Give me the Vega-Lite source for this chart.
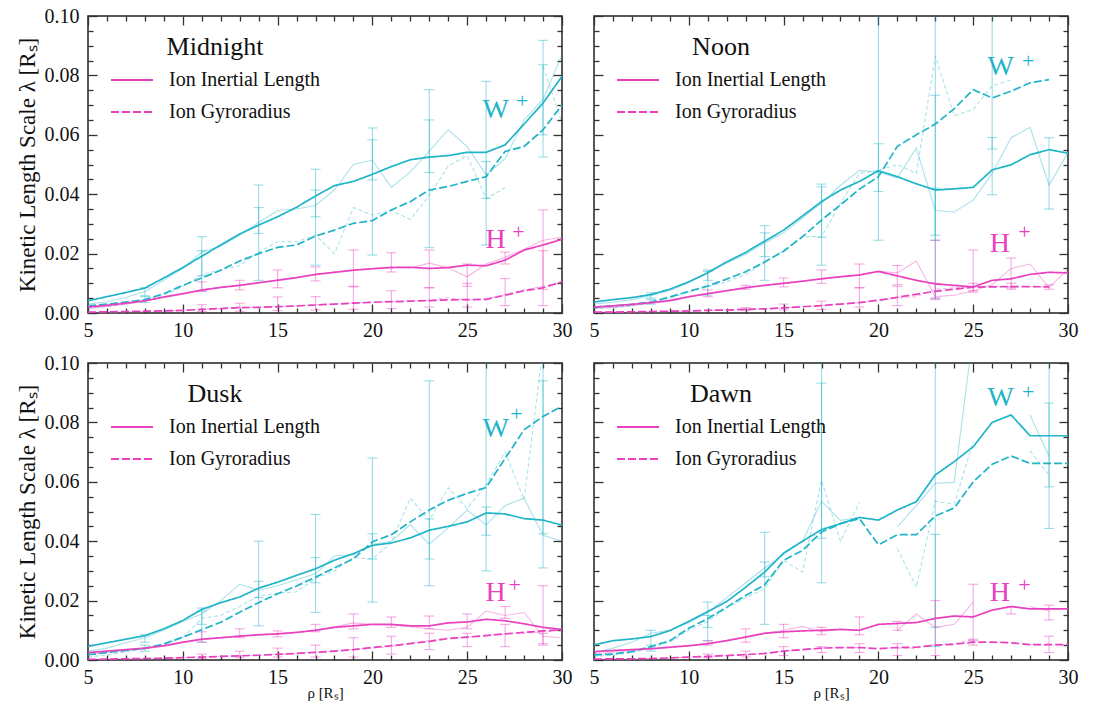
{
"$schema": "https://vega.github.io/schema/vega-lite/v6.json",
"background": "white",
"padding": {"left": 15, "top": 5, "right": 8, "bottom": 3},
"config": {
  "font": "Liberation Serif, serif",
  "view": {"stroke": "#222222", "strokeWidth": 1.5},
  "axis": {"labelFont": "Liberation Serif, serif", "titleFont": "Liberation Serif, serif", "labelColor": "#111111", "titleColor": "#111111", "tickColor": "#333333", "tickWidth": 1.3, "domain": false, "grid": false, "titleFontWeight": "normal"},
  "legend": {"labelFont": "Liberation Serif, serif", "titleFont": "Liberation Serif, serif"},
  "text": {"font": "Liberation Serif, serif"}
},
"datasets": {
"lines": [
{"panel":"Midnight","ion":"W+","x":5,"Ion Inertial Length":0.0041,"Ion Gyroradius":0.0024,"raw_inertial":0.003,"raw_gyro":0.0018},
{"panel":"Midnight","ion":"W+","x":6,"Ion Inertial Length":0.0055,"Ion Gyroradius":0.003,"raw_inertial":0.0038,"raw_gyro":0.0022},
{"panel":"Midnight","ion":"W+","x":7,"Ion Inertial Length":0.0069,"Ion Gyroradius":0.0037,"raw_inertial":0.0052,"raw_gyro":0.003},
{"panel":"Midnight","ion":"W+","x":8,"Ion Inertial Length":0.0084,"Ion Gyroradius":0.0045,"raw_inertial":0.0072,"raw_gyro":0.004},
{"panel":"Midnight","ion":"W+","x":9,"Ion Inertial Length":0.0118,"Ion Gyroradius":0.0065,"raw_inertial":0.011,"raw_gyro":0.006},
{"panel":"Midnight","ion":"W+","x":10,"Ion Inertial Length":0.0153,"Ion Gyroradius":0.0093,"raw_inertial":0.015,"raw_gyro":0.0088},
{"panel":"Midnight","ion":"W+","x":11,"Ion Inertial Length":0.0191,"Ion Gyroradius":0.0118,"raw_inertial":0.0205,"raw_gyro":0.013},
{"panel":"Midnight","ion":"W+","x":12,"Ion Inertial Length":0.0229,"Ion Gyroradius":0.0144,"raw_inertial":0.0225,"raw_gyro":0.0145},
{"panel":"Midnight","ion":"W+","x":13,"Ion Inertial Length":0.0266,"Ion Gyroradius":0.0175,"raw_inertial":0.0262,"raw_gyro":0.016},
{"panel":"Midnight","ion":"W+","x":14,"Ion Inertial Length":0.0296,"Ion Gyroradius":0.02,"raw_inertial":0.0305,"raw_gyro":0.0205},
{"panel":"Midnight","ion":"W+","x":15,"Ion Inertial Length":0.0324,"Ion Gyroradius":0.0221,"raw_inertial":0.0345,"raw_gyro":0.024},
{"panel":"Midnight","ion":"W+","x":16,"Ion Inertial Length":0.0356,"Ion Gyroradius":0.0229,"raw_inertial":0.035,"raw_gyro":0.024},
{"panel":"Midnight","ion":"W+","x":17,"Ion Inertial Length":0.0394,"Ion Gyroradius":0.0259,"raw_inertial":0.0362,"raw_gyro":0.0262},
{"panel":"Midnight","ion":"W+","x":18,"Ion Inertial Length":0.0429,"Ion Gyroradius":0.0279,"raw_inertial":0.0415,"raw_gyro":0.02},
{"panel":"Midnight","ion":"W+","x":19,"Ion Inertial Length":0.0443,"Ion Gyroradius":0.0302,"raw_inertial":0.05,"raw_gyro":0.0355},
{"panel":"Midnight","ion":"W+","x":20,"Ion Inertial Length":0.0467,"Ion Gyroradius":0.0311,"raw_inertial":0.0515,"raw_gyro":0.033},
{"panel":"Midnight","ion":"W+","x":21,"Ion Inertial Length":0.0493,"Ion Gyroradius":0.0347,"raw_inertial":0.0423,"raw_gyro":0.0345},
{"panel":"Midnight","ion":"W+","x":22,"Ion Inertial Length":0.0516,"Ion Gyroradius":0.0375,"raw_inertial":0.0475,"raw_gyro":0.0315},
{"panel":"Midnight","ion":"W+","x":23,"Ion Inertial Length":0.0525,"Ion Gyroradius":0.0414,"raw_inertial":0.0545,"raw_gyro":0.0395},
{"panel":"Midnight","ion":"W+","x":24,"Ion Inertial Length":0.053,"Ion Gyroradius":0.0426,"raw_inertial":0.0617,"raw_gyro":0.0495},
{"panel":"Midnight","ion":"W+","x":25,"Ion Inertial Length":0.0541,"Ion Gyroradius":0.0443,"raw_inertial":0.056,"raw_gyro":0.053},
{"panel":"Midnight","ion":"W+","x":26,"Ion Inertial Length":0.0541,"Ion Gyroradius":0.0459,"raw_inertial":0.0465,"raw_gyro":0.0385},
{"panel":"Midnight","ion":"W+","x":27,"Ion Inertial Length":0.0566,"Ion Gyroradius":0.0544,"raw_inertial":0.052,"raw_gyro":0.0422},
{"panel":"Midnight","ion":"W+","x":28,"Ion Inertial Length":0.0636,"Ion Gyroradius":0.0561,"raw_inertial":0.065,"raw_gyro":null},
{"panel":"Midnight","ion":"W+","x":29,"Ion Inertial Length":0.0707,"Ion Gyroradius":0.0617,"raw_inertial":0.072,"raw_gyro":0.083},
{"panel":"Midnight","ion":"W+","x":30,"Ion Inertial Length":0.0797,"Ion Gyroradius":0.07,"raw_inertial":0.087,"raw_gyro":0.064},
{"panel":"Midnight","ion":"H+","x":5,"Ion Inertial Length":0.002,"Ion Gyroradius":0.0003,"raw_inertial":0.0015,"raw_gyro":0.0002},
{"panel":"Midnight","ion":"H+","x":6,"Ion Inertial Length":0.0026,"Ion Gyroradius":0.0004,"raw_inertial":0.0022,"raw_gyro":0.0003},
{"panel":"Midnight","ion":"H+","x":7,"Ion Inertial Length":0.0033,"Ion Gyroradius":0.0005,"raw_inertial":0.003,"raw_gyro":0.0004},
{"panel":"Midnight","ion":"H+","x":8,"Ion Inertial Length":0.0041,"Ion Gyroradius":0.0006,"raw_inertial":0.004,"raw_gyro":0.0006},
{"panel":"Midnight","ion":"H+","x":9,"Ion Inertial Length":0.0054,"Ion Gyroradius":0.0007,"raw_inertial":0.0052,"raw_gyro":0.0007},
{"panel":"Midnight","ion":"H+","x":10,"Ion Inertial Length":0.0065,"Ion Gyroradius":0.0009,"raw_inertial":0.0063,"raw_gyro":0.0009},
{"panel":"Midnight","ion":"H+","x":11,"Ion Inertial Length":0.0077,"Ion Gyroradius":0.0012,"raw_inertial":0.0079,"raw_gyro":0.0013},
{"panel":"Midnight","ion":"H+","x":12,"Ion Inertial Length":0.0086,"Ion Gyroradius":0.0015,"raw_inertial":0.0087,"raw_gyro":0.0015},
{"panel":"Midnight","ion":"H+","x":13,"Ion Inertial Length":0.0093,"Ion Gyroradius":0.0018,"raw_inertial":0.0094,"raw_gyro":0.0019},
{"panel":"Midnight","ion":"H+","x":14,"Ion Inertial Length":0.0102,"Ion Gyroradius":0.0019,"raw_inertial":0.01,"raw_gyro":0.0019},
{"panel":"Midnight","ion":"H+","x":15,"Ion Inertial Length":0.011,"Ion Gyroradius":0.0021,"raw_inertial":0.0112,"raw_gyro":0.0022},
{"panel":"Midnight","ion":"H+","x":16,"Ion Inertial Length":0.0119,"Ion Gyroradius":0.0024,"raw_inertial":0.012,"raw_gyro":0.0024},
{"panel":"Midnight","ion":"H+","x":17,"Ion Inertial Length":0.013,"Ion Gyroradius":0.0027,"raw_inertial":0.0128,"raw_gyro":0.0028},
{"panel":"Midnight","ion":"H+","x":18,"Ion Inertial Length":0.0137,"Ion Gyroradius":0.003,"raw_inertial":0.0138,"raw_gyro":0.003},
{"panel":"Midnight","ion":"H+","x":19,"Ion Inertial Length":0.0144,"Ion Gyroradius":0.0033,"raw_inertial":0.0145,"raw_gyro":0.0034},
{"panel":"Midnight","ion":"H+","x":20,"Ion Inertial Length":0.0149,"Ion Gyroradius":0.0036,"raw_inertial":0.015,"raw_gyro":0.0037},
{"panel":"Midnight","ion":"H+","x":21,"Ion Inertial Length":0.0153,"Ion Gyroradius":0.0038,"raw_inertial":0.0155,"raw_gyro":0.0038},
{"panel":"Midnight","ion":"H+","x":22,"Ion Inertial Length":0.0154,"Ion Gyroradius":0.004,"raw_inertial":0.0152,"raw_gyro":0.004},
{"panel":"Midnight","ion":"H+","x":23,"Ion Inertial Length":0.015,"Ion Gyroradius":0.0042,"raw_inertial":0.0168,"raw_gyro":0.0043},
{"panel":"Midnight","ion":"H+","x":24,"Ion Inertial Length":0.0153,"Ion Gyroradius":0.0044,"raw_inertial":0.0152,"raw_gyro":0.0052},
{"panel":"Midnight","ion":"H+","x":25,"Ion Inertial Length":0.0161,"Ion Gyroradius":0.0045,"raw_inertial":0.0122,"raw_gyro":0.0044},
{"panel":"Midnight","ion":"H+","x":26,"Ion Inertial Length":0.0159,"Ion Gyroradius":0.0046,"raw_inertial":0.0165,"raw_gyro":0.0047},
{"panel":"Midnight","ion":"H+","x":27,"Ion Inertial Length":0.0178,"Ion Gyroradius":0.006,"raw_inertial":0.0188,"raw_gyro":0.0062},
{"panel":"Midnight","ion":"H+","x":28,"Ion Inertial Length":0.0212,"Ion Gyroradius":0.0075,"raw_inertial":0.0215,"raw_gyro":0.0078},
{"panel":"Midnight","ion":"H+","x":29,"Ion Inertial Length":0.0229,"Ion Gyroradius":0.0085,"raw_inertial":0.0245,"raw_gyro":0.009},
{"panel":"Midnight","ion":"H+","x":30,"Ion Inertial Length":0.0248,"Ion Gyroradius":0.0105,"raw_inertial":0.0255,"raw_gyro":0.0105},
{"panel":"Noon","ion":"W+","x":5,"Ion Inertial Length":0.0037,"Ion Gyroradius":0.002,"raw_inertial":0.003,"raw_gyro":0.0015},
{"panel":"Noon","ion":"W+","x":6,"Ion Inertial Length":0.0045,"Ion Gyroradius":0.0024,"raw_inertial":0.0036,"raw_gyro":0.0018},
{"panel":"Noon","ion":"W+","x":7,"Ion Inertial Length":0.0052,"Ion Gyroradius":0.0029,"raw_inertial":0.0045,"raw_gyro":0.0024},
{"panel":"Noon","ion":"W+","x":8,"Ion Inertial Length":0.0062,"Ion Gyroradius":0.0037,"raw_inertial":0.0058,"raw_gyro":0.0033},
{"panel":"Noon","ion":"W+","x":9,"Ion Inertial Length":0.008,"Ion Gyroradius":0.0054,"raw_inertial":0.0076,"raw_gyro":0.005},
{"panel":"Noon","ion":"W+","x":10,"Ion Inertial Length":0.0105,"Ion Gyroradius":0.0073,"raw_inertial":0.0102,"raw_gyro":0.007},
{"panel":"Noon","ion":"W+","x":11,"Ion Inertial Length":0.0135,"Ion Gyroradius":0.0091,"raw_inertial":0.0138,"raw_gyro":0.0088},
{"panel":"Noon","ion":"W+","x":12,"Ion Inertial Length":0.0172,"Ion Gyroradius":0.0114,"raw_inertial":0.0168,"raw_gyro":0.0105},
{"panel":"Noon","ion":"W+","x":13,"Ion Inertial Length":0.0204,"Ion Gyroradius":0.0139,"raw_inertial":0.0198,"raw_gyro":0.013},
{"panel":"Noon","ion":"W+","x":14,"Ion Inertial Length":0.0242,"Ion Gyroradius":0.0172,"raw_inertial":0.0235,"raw_gyro":0.017},
{"panel":"Noon","ion":"W+","x":15,"Ion Inertial Length":0.0279,"Ion Gyroradius":0.0208,"raw_inertial":0.027,"raw_gyro":0.021},
{"panel":"Noon","ion":"W+","x":16,"Ion Inertial Length":0.0327,"Ion Gyroradius":0.0257,"raw_inertial":0.032,"raw_gyro":0.0257},
{"panel":"Noon","ion":"W+","x":17,"Ion Inertial Length":0.0375,"Ion Gyroradius":0.0313,"raw_inertial":0.037,"raw_gyro":0.0257},
{"panel":"Noon","ion":"W+","x":18,"Ion Inertial Length":0.0414,"Ion Gyroradius":0.0364,"raw_inertial":0.043,"raw_gyro":0.037},
{"panel":"Noon","ion":"W+","x":19,"Ion Inertial Length":0.0443,"Ion Gyroradius":0.0417,"raw_inertial":0.048,"raw_gyro":0.047},
{"panel":"Noon","ion":"W+","x":20,"Ion Inertial Length":0.0479,"Ion Gyroradius":0.0459,"raw_inertial":0.0475,"raw_gyro":0.048},
{"panel":"Noon","ion":"W+","x":21,"Ion Inertial Length":0.0459,"Ion Gyroradius":0.0561,"raw_inertial":0.0455,"raw_gyro":0.05},
{"panel":"Noon","ion":"W+","x":22,"Ion Inertial Length":0.0435,"Ion Gyroradius":0.06,"raw_inertial":0.0555,"raw_gyro":0.047},
{"panel":"Noon","ion":"W+","x":23,"Ion Inertial Length":0.0414,"Ion Gyroradius":0.0636,"raw_inertial":0.0345,"raw_gyro":0.0865},
{"panel":"Noon","ion":"W+","x":24,"Ion Inertial Length":0.0418,"Ion Gyroradius":0.0688,"raw_inertial":0.034,"raw_gyro":0.0665},
{"panel":"Noon","ion":"W+","x":25,"Ion Inertial Length":0.0423,"Ion Gyroradius":0.0752,"raw_inertial":0.038,"raw_gyro":0.0685},
{"panel":"Noon","ion":"W+","x":26,"Ion Inertial Length":0.0482,"Ion Gyroradius":0.0724,"raw_inertial":0.047,"raw_gyro":0.0765},
{"panel":"Noon","ion":"W+","x":27,"Ion Inertial Length":0.0499,"Ion Gyroradius":0.0747,"raw_inertial":0.059,"raw_gyro":0.0785},
{"panel":"Noon","ion":"W+","x":28,"Ion Inertial Length":0.0533,"Ion Gyroradius":0.0775,"raw_inertial":0.0625,"raw_gyro":null},
{"panel":"Noon","ion":"W+","x":29,"Ion Inertial Length":0.055,"Ion Gyroradius":0.0786,"raw_inertial":0.043,"raw_gyro":null},
{"panel":"Noon","ion":"W+","x":30,"Ion Inertial Length":0.0538,"Ion Gyroradius":null,"raw_inertial":0.054,"raw_gyro":null},
{"panel":"Noon","ion":"H+","x":5,"Ion Inertial Length":0.002,"Ion Gyroradius":0.0003,"raw_inertial":0.0015,"raw_gyro":0.0002},
{"panel":"Noon","ion":"H+","x":6,"Ion Inertial Length":0.0024,"Ion Gyroradius":0.0003,"raw_inertial":0.0019,"raw_gyro":0.0003},
{"panel":"Noon","ion":"H+","x":7,"Ion Inertial Length":0.0029,"Ion Gyroradius":0.0004,"raw_inertial":0.0025,"raw_gyro":0.0004},
{"panel":"Noon","ion":"H+","x":8,"Ion Inertial Length":0.0035,"Ion Gyroradius":0.0005,"raw_inertial":0.0032,"raw_gyro":0.0005},
{"panel":"Noon","ion":"H+","x":9,"Ion Inertial Length":0.0042,"Ion Gyroradius":0.0006,"raw_inertial":0.004,"raw_gyro":0.0006},
{"panel":"Noon","ion":"H+","x":10,"Ion Inertial Length":0.0055,"Ion Gyroradius":0.0007,"raw_inertial":0.0053,"raw_gyro":0.0007},
{"panel":"Noon","ion":"H+","x":11,"Ion Inertial Length":0.0065,"Ion Gyroradius":0.0009,"raw_inertial":0.0066,"raw_gyro":0.0009},
{"panel":"Noon","ion":"H+","x":12,"Ion Inertial Length":0.0075,"Ion Gyroradius":0.001,"raw_inertial":0.0076,"raw_gyro":0.0011},
{"panel":"Noon","ion":"H+","x":13,"Ion Inertial Length":0.0085,"Ion Gyroradius":0.0012,"raw_inertial":0.0086,"raw_gyro":0.0013},
{"panel":"Noon","ion":"H+","x":14,"Ion Inertial Length":0.0093,"Ion Gyroradius":0.0014,"raw_inertial":0.0093,"raw_gyro":0.0014},
{"panel":"Noon","ion":"H+","x":15,"Ion Inertial Length":0.01,"Ion Gyroradius":0.0017,"raw_inertial":0.01,"raw_gyro":0.0017},
{"panel":"Noon","ion":"H+","x":16,"Ion Inertial Length":0.0107,"Ion Gyroradius":0.0021,"raw_inertial":0.0108,"raw_gyro":0.0021},
{"panel":"Noon","ion":"H+","x":17,"Ion Inertial Length":0.0115,"Ion Gyroradius":0.0025,"raw_inertial":0.0116,"raw_gyro":0.0025},
{"panel":"Noon","ion":"H+","x":18,"Ion Inertial Length":0.0122,"Ion Gyroradius":0.003,"raw_inertial":0.0123,"raw_gyro":0.003},
{"panel":"Noon","ion":"H+","x":19,"Ion Inertial Length":0.0128,"Ion Gyroradius":0.0035,"raw_inertial":0.0129,"raw_gyro":0.0035},
{"panel":"Noon","ion":"H+","x":20,"Ion Inertial Length":0.014,"Ion Gyroradius":0.0043,"raw_inertial":0.014,"raw_gyro":0.0043},
{"panel":"Noon","ion":"H+","x":21,"Ion Inertial Length":0.0125,"Ion Gyroradius":0.0053,"raw_inertial":0.0135,"raw_gyro":0.005},
{"panel":"Noon","ion":"H+","x":22,"Ion Inertial Length":0.011,"Ion Gyroradius":0.0063,"raw_inertial":0.0175,"raw_gyro":0.0055},
{"panel":"Noon","ion":"H+","x":23,"Ion Inertial Length":0.0098,"Ion Gyroradius":0.0073,"raw_inertial":0.0055,"raw_gyro":0.008},
{"panel":"Noon","ion":"H+","x":24,"Ion Inertial Length":0.0093,"Ion Gyroradius":0.008,"raw_inertial":0.006,"raw_gyro":0.0085},
{"panel":"Noon","ion":"H+","x":25,"Ion Inertial Length":0.0088,"Ion Gyroradius":0.0087,"raw_inertial":0.0075,"raw_gyro":0.0088},
{"panel":"Noon","ion":"H+","x":26,"Ion Inertial Length":0.011,"Ion Gyroradius":0.0088,"raw_inertial":0.0095,"raw_gyro":0.009},
{"panel":"Noon","ion":"H+","x":27,"Ion Inertial Length":0.0115,"Ion Gyroradius":0.0089,"raw_inertial":0.015,"raw_gyro":0.0089},
{"panel":"Noon","ion":"H+","x":28,"Ion Inertial Length":0.013,"Ion Gyroradius":0.0089,"raw_inertial":0.0165,"raw_gyro":0.0089},
{"panel":"Noon","ion":"H+","x":29,"Ion Inertial Length":0.0137,"Ion Gyroradius":0.0088,"raw_inertial":0.0085,"raw_gyro":0.0088},
{"panel":"Noon","ion":"H+","x":30,"Ion Inertial Length":0.0135,"Ion Gyroradius":null,"raw_inertial":0.0148,"raw_gyro":null},
{"panel":"Dusk","ion":"W+","x":5,"Ion Inertial Length":0.0046,"Ion Gyroradius":0.0018,"raw_inertial":0.003,"raw_gyro":0.001},
{"panel":"Dusk","ion":"W+","x":6,"Ion Inertial Length":0.0058,"Ion Gyroradius":0.0025,"raw_inertial":0.004,"raw_gyro":0.0017},
{"panel":"Dusk","ion":"W+","x":7,"Ion Inertial Length":0.007,"Ion Gyroradius":0.0032,"raw_inertial":0.0058,"raw_gyro":0.0028},
{"panel":"Dusk","ion":"W+","x":8,"Ion Inertial Length":0.0082,"Ion Gyroradius":0.0039,"raw_inertial":0.0075,"raw_gyro":0.0038},
{"panel":"Dusk","ion":"W+","x":9,"Ion Inertial Length":0.0105,"Ion Gyroradius":0.0054,"raw_inertial":0.01,"raw_gyro":0.0052},
{"panel":"Dusk","ion":"W+","x":10,"Ion Inertial Length":0.0133,"Ion Gyroradius":0.0077,"raw_inertial":0.013,"raw_gyro":0.0075},
{"panel":"Dusk","ion":"W+","x":11,"Ion Inertial Length":0.017,"Ion Gyroradius":0.0102,"raw_inertial":0.0155,"raw_gyro":0.014},
{"panel":"Dusk","ion":"W+","x":12,"Ion Inertial Length":0.0193,"Ion Gyroradius":0.0127,"raw_inertial":0.02,"raw_gyro":0.015},
{"panel":"Dusk","ion":"W+","x":13,"Ion Inertial Length":0.0212,"Ion Gyroradius":0.0161,"raw_inertial":0.0255,"raw_gyro":0.018},
{"panel":"Dusk","ion":"W+","x":14,"Ion Inertial Length":0.0242,"Ion Gyroradius":0.0193,"raw_inertial":0.0235,"raw_gyro":0.0215},
{"panel":"Dusk","ion":"W+","x":15,"Ion Inertial Length":0.0262,"Ion Gyroradius":0.0223,"raw_inertial":0.025,"raw_gyro":0.0225},
{"panel":"Dusk","ion":"W+","x":16,"Ion Inertial Length":0.0285,"Ion Gyroradius":0.0249,"raw_inertial":0.027,"raw_gyro":0.023},
{"panel":"Dusk","ion":"W+","x":17,"Ion Inertial Length":0.0307,"Ion Gyroradius":0.0279,"raw_inertial":0.029,"raw_gyro":0.0275},
{"panel":"Dusk","ion":"W+","x":18,"Ion Inertial Length":0.0336,"Ion Gyroradius":0.031,"raw_inertial":0.035,"raw_gyro":0.03},
{"panel":"Dusk","ion":"W+","x":19,"Ion Inertial Length":0.0358,"Ion Gyroradius":0.0341,"raw_inertial":0.0355,"raw_gyro":0.0345},
{"panel":"Dusk","ion":"W+","x":20,"Ion Inertial Length":0.0386,"Ion Gyroradius":0.0398,"raw_inertial":0.039,"raw_gyro":0.034},
{"panel":"Dusk","ion":"W+","x":21,"Ion Inertial Length":0.0394,"Ion Gyroradius":0.0422,"raw_inertial":0.04,"raw_gyro":0.0395},
{"panel":"Dusk","ion":"W+","x":22,"Ion Inertial Length":0.0411,"Ion Gyroradius":0.0465,"raw_inertial":0.0455,"raw_gyro":0.0545},
{"panel":"Dusk","ion":"W+","x":23,"Ion Inertial Length":0.0437,"Ion Gyroradius":0.0505,"raw_inertial":0.039,"raw_gyro":0.047},
{"panel":"Dusk","ion":"W+","x":24,"Ion Inertial Length":0.045,"Ion Gyroradius":0.0538,"raw_inertial":0.0445,"raw_gyro":0.058},
{"panel":"Dusk","ion":"W+","x":25,"Ion Inertial Length":0.0465,"Ion Gyroradius":0.0561,"raw_inertial":0.0505,"raw_gyro":0.051},
{"panel":"Dusk","ion":"W+","x":26,"Ion Inertial Length":0.0495,"Ion Gyroradius":0.0581,"raw_inertial":0.0455,"raw_gyro":0.059},
{"panel":"Dusk","ion":"W+","x":27,"Ion Inertial Length":0.0492,"Ion Gyroradius":0.0679,"raw_inertial":0.052,"raw_gyro":0.07},
{"panel":"Dusk","ion":"W+","x":28,"Ion Inertial Length":0.0476,"Ion Gyroradius":0.0775,"raw_inertial":0.0545,"raw_gyro":0.054},
{"panel":"Dusk","ion":"W+","x":29,"Ion Inertial Length":0.0471,"Ion Gyroradius":0.082,"raw_inertial":0.042,"raw_gyro":0.105},
{"panel":"Dusk","ion":"W+","x":30,"Ion Inertial Length":0.0454,"Ion Gyroradius":0.0854,"raw_inertial":0.04,"raw_gyro":null},
{"panel":"Dusk","ion":"H+","x":5,"Ion Inertial Length":0.0025,"Ion Gyroradius":0.0002,"raw_inertial":0.0018,"raw_gyro":0.0001},
{"panel":"Dusk","ion":"H+","x":6,"Ion Inertial Length":0.003,"Ion Gyroradius":0.0003,"raw_inertial":0.0025,"raw_gyro":0.0002},
{"panel":"Dusk","ion":"H+","x":7,"Ion Inertial Length":0.0035,"Ion Gyroradius":0.0004,"raw_inertial":0.0032,"raw_gyro":0.0003},
{"panel":"Dusk","ion":"H+","x":8,"Ion Inertial Length":0.004,"Ion Gyroradius":0.0005,"raw_inertial":0.0038,"raw_gyro":0.0004},
{"panel":"Dusk","ion":"H+","x":9,"Ion Inertial Length":0.0048,"Ion Gyroradius":0.0006,"raw_inertial":0.0046,"raw_gyro":0.0006},
{"panel":"Dusk","ion":"H+","x":10,"Ion Inertial Length":0.006,"Ion Gyroradius":0.0008,"raw_inertial":0.0058,"raw_gyro":0.0008},
{"panel":"Dusk","ion":"H+","x":11,"Ion Inertial Length":0.007,"Ion Gyroradius":0.001,"raw_inertial":0.0068,"raw_gyro":0.001},
{"panel":"Dusk","ion":"H+","x":12,"Ion Inertial Length":0.0075,"Ion Gyroradius":0.0012,"raw_inertial":0.0076,"raw_gyro":0.0012},
{"panel":"Dusk","ion":"H+","x":13,"Ion Inertial Length":0.008,"Ion Gyroradius":0.0014,"raw_inertial":0.0082,"raw_gyro":0.0014},
{"panel":"Dusk","ion":"H+","x":14,"Ion Inertial Length":0.0085,"Ion Gyroradius":0.0016,"raw_inertial":0.0084,"raw_gyro":0.0016},
{"panel":"Dusk","ion":"H+","x":15,"Ion Inertial Length":0.0088,"Ion Gyroradius":0.0019,"raw_inertial":0.0087,"raw_gyro":0.0019},
{"panel":"Dusk","ion":"H+","x":16,"Ion Inertial Length":0.0093,"Ion Gyroradius":0.0022,"raw_inertial":0.0092,"raw_gyro":0.0022},
{"panel":"Dusk","ion":"H+","x":17,"Ion Inertial Length":0.01,"Ion Gyroradius":0.0026,"raw_inertial":0.01,"raw_gyro":0.0026},
{"panel":"Dusk","ion":"H+","x":18,"Ion Inertial Length":0.011,"Ion Gyroradius":0.003,"raw_inertial":0.0112,"raw_gyro":0.003},
{"panel":"Dusk","ion":"H+","x":19,"Ion Inertial Length":0.0115,"Ion Gyroradius":0.0035,"raw_inertial":0.0125,"raw_gyro":0.0035},
{"panel":"Dusk","ion":"H+","x":20,"Ion Inertial Length":0.012,"Ion Gyroradius":0.0042,"raw_inertial":0.012,"raw_gyro":0.004},
{"panel":"Dusk","ion":"H+","x":21,"Ion Inertial Length":0.012,"Ion Gyroradius":0.0048,"raw_inertial":0.0118,"raw_gyro":0.0045},
{"panel":"Dusk","ion":"H+","x":22,"Ion Inertial Length":0.0115,"Ion Gyroradius":0.0055,"raw_inertial":0.0112,"raw_gyro":0.0058},
{"panel":"Dusk","ion":"H+","x":23,"Ion Inertial Length":0.0115,"Ion Gyroradius":0.0063,"raw_inertial":0.0105,"raw_gyro":0.0065},
{"panel":"Dusk","ion":"H+","x":24,"Ion Inertial Length":0.0125,"Ion Gyroradius":0.0072,"raw_inertial":0.01,"raw_gyro":0.0075},
{"panel":"Dusk","ion":"H+","x":25,"Ion Inertial Length":0.0128,"Ion Gyroradius":0.0077,"raw_inertial":0.011,"raw_gyro":0.0078},
{"panel":"Dusk","ion":"H+","x":26,"Ion Inertial Length":0.0137,"Ion Gyroradius":0.0082,"raw_inertial":0.0165,"raw_gyro":0.0083},
{"panel":"Dusk","ion":"H+","x":27,"Ion Inertial Length":0.0132,"Ion Gyroradius":0.0088,"raw_inertial":0.015,"raw_gyro":0.0088},
{"panel":"Dusk","ion":"H+","x":28,"Ion Inertial Length":0.0122,"Ion Gyroradius":0.0093,"raw_inertial":0.016,"raw_gyro":0.009},
{"panel":"Dusk","ion":"H+","x":29,"Ion Inertial Length":0.011,"Ion Gyroradius":0.0098,"raw_inertial":0.008,"raw_gyro":0.0095},
{"panel":"Dusk","ion":"H+","x":30,"Ion Inertial Length":0.0103,"Ion Gyroradius":0.0102,"raw_inertial":0.0075,"raw_gyro":0.01},
{"panel":"Dawn","ion":"W+","x":5,"Ion Inertial Length":0.0051,"Ion Gyroradius":0.0017,"raw_inertial":0.0025,"raw_gyro":0.0012},
{"panel":"Dawn","ion":"W+","x":6,"Ion Inertial Length":0.0065,"Ion Gyroradius":0.002,"raw_inertial":0.004,"raw_gyro":0.0016},
{"panel":"Dawn","ion":"W+","x":7,"Ion Inertial Length":0.0071,"Ion Gyroradius":0.0028,"raw_inertial":0.006,"raw_gyro":0.0025},
{"panel":"Dawn","ion":"W+","x":8,"Ion Inertial Length":0.0079,"Ion Gyroradius":0.0045,"raw_inertial":0.009,"raw_gyro":0.0042},
{"panel":"Dawn","ion":"W+","x":9,"Ion Inertial Length":0.0099,"Ion Gyroradius":0.0065,"raw_inertial":0.01,"raw_gyro":0.006},
{"panel":"Dawn","ion":"W+","x":10,"Ion Inertial Length":0.013,"Ion Gyroradius":0.0107,"raw_inertial":0.0125,"raw_gyro":0.01},
{"panel":"Dawn","ion":"W+","x":11,"Ion Inertial Length":0.0163,"Ion Gyroradius":0.0139,"raw_inertial":0.016,"raw_gyro":0.013},
{"panel":"Dawn","ion":"W+","x":12,"Ion Inertial Length":0.0197,"Ion Gyroradius":0.0178,"raw_inertial":0.021,"raw_gyro":0.0175},
{"panel":"Dawn","ion":"W+","x":13,"Ion Inertial Length":0.0245,"Ion Gyroradius":0.0217,"raw_inertial":0.026,"raw_gyro":0.021},
{"panel":"Dawn","ion":"W+","x":14,"Ion Inertial Length":0.0296,"Ion Gyroradius":0.0253,"raw_inertial":0.031,"raw_gyro":0.024},
{"panel":"Dawn","ion":"W+","x":15,"Ion Inertial Length":0.036,"Ion Gyroradius":0.0336,"raw_inertial":0.0355,"raw_gyro":0.0335},
{"panel":"Dawn","ion":"W+","x":16,"Ion Inertial Length":0.04,"Ion Gyroradius":0.0369,"raw_inertial":0.04,"raw_gyro":0.0296},
{"panel":"Dawn","ion":"W+","x":17,"Ion Inertial Length":0.0439,"Ion Gyroradius":0.0431,"raw_inertial":0.0535,"raw_gyro":0.0605},
{"panel":"Dawn","ion":"W+","x":18,"Ion Inertial Length":0.0459,"Ion Gyroradius":0.0459,"raw_inertial":0.047,"raw_gyro":0.04},
{"panel":"Dawn","ion":"W+","x":19,"Ion Inertial Length":0.048,"Ion Gyroradius":0.0476,"raw_inertial":0.048,"raw_gyro":0.053},
{"panel":"Dawn","ion":"W+","x":20,"Ion Inertial Length":0.0471,"Ion Gyroradius":0.0388,"raw_inertial":null,"raw_gyro":null},
{"panel":"Dawn","ion":"W+","x":21,"Ion Inertial Length":0.0505,"Ion Gyroradius":0.0422,"raw_inertial":0.0448,"raw_gyro":0.0375},
{"panel":"Dawn","ion":"W+","x":22,"Ion Inertial Length":0.0533,"Ion Gyroradius":0.0422,"raw_inertial":0.052,"raw_gyro":0.0245},
{"panel":"Dawn","ion":"W+","x":23,"Ion Inertial Length":0.0623,"Ion Gyroradius":0.0485,"raw_inertial":0.0595,"raw_gyro":0.0535},
{"panel":"Dawn","ion":"W+","x":24,"Ion Inertial Length":0.0668,"Ion Gyroradius":0.0512,"raw_inertial":0.0598,"raw_gyro":0.0525},
{"panel":"Dawn","ion":"W+","x":25,"Ion Inertial Length":0.0718,"Ion Gyroradius":0.06,"raw_inertial":0.11,"raw_gyro":0.0735},
{"panel":"Dawn","ion":"W+","x":26,"Ion Inertial Length":0.08,"Ion Gyroradius":0.0659,"raw_inertial":null,"raw_gyro":null},
{"panel":"Dawn","ion":"W+","x":27,"Ion Inertial Length":0.0825,"Ion Gyroradius":0.0687,"raw_inertial":null,"raw_gyro":null},
{"panel":"Dawn","ion":"W+","x":28,"Ion Inertial Length":0.0755,"Ion Gyroradius":0.0662,"raw_inertial":0.0825,"raw_gyro":0.0704},
{"panel":"Dawn","ion":"W+","x":29,"Ion Inertial Length":0.0755,"Ion Gyroradius":0.0662,"raw_inertial":0.0685,"raw_gyro":0.0623},
{"panel":"Dawn","ion":"W+","x":30,"Ion Inertial Length":0.0755,"Ion Gyroradius":0.0662,"raw_inertial":null,"raw_gyro":null},
{"panel":"Dawn","ion":"H+","x":5,"Ion Inertial Length":0.0028,"Ion Gyroradius":0.0003,"raw_inertial":0.002,"raw_gyro":0.0002},
{"panel":"Dawn","ion":"H+","x":6,"Ion Inertial Length":0.0032,"Ion Gyroradius":0.0004,"raw_inertial":0.0026,"raw_gyro":0.0003},
{"panel":"Dawn","ion":"H+","x":7,"Ion Inertial Length":0.0035,"Ion Gyroradius":0.0004,"raw_inertial":0.0032,"raw_gyro":0.0004},
{"panel":"Dawn","ion":"H+","x":8,"Ion Inertial Length":0.0038,"Ion Gyroradius":0.0005,"raw_inertial":0.0037,"raw_gyro":0.0005},
{"panel":"Dawn","ion":"H+","x":9,"Ion Inertial Length":0.0043,"Ion Gyroradius":0.0007,"raw_inertial":0.0042,"raw_gyro":0.0007},
{"panel":"Dawn","ion":"H+","x":10,"Ion Inertial Length":0.0048,"Ion Gyroradius":0.001,"raw_inertial":0.0047,"raw_gyro":0.001},
{"panel":"Dawn","ion":"H+","x":11,"Ion Inertial Length":0.0055,"Ion Gyroradius":0.0012,"raw_inertial":0.0054,"raw_gyro":0.0012},
{"panel":"Dawn","ion":"H+","x":12,"Ion Inertial Length":0.0065,"Ion Gyroradius":0.0015,"raw_inertial":0.0066,"raw_gyro":0.0015},
{"panel":"Dawn","ion":"H+","x":13,"Ion Inertial Length":0.0077,"Ion Gyroradius":0.0018,"raw_inertial":0.0078,"raw_gyro":0.0018},
{"panel":"Dawn","ion":"H+","x":14,"Ion Inertial Length":0.009,"Ion Gyroradius":0.0022,"raw_inertial":0.009,"raw_gyro":0.0022},
{"panel":"Dawn","ion":"H+","x":15,"Ion Inertial Length":0.0095,"Ion Gyroradius":0.003,"raw_inertial":0.01,"raw_gyro":0.003},
{"panel":"Dawn","ion":"H+","x":16,"Ion Inertial Length":0.0098,"Ion Gyroradius":0.0035,"raw_inertial":0.0113,"raw_gyro":0.0035},
{"panel":"Dawn","ion":"H+","x":17,"Ion Inertial Length":0.01,"Ion Gyroradius":0.004,"raw_inertial":0.0095,"raw_gyro":0.004},
{"panel":"Dawn","ion":"H+","x":18,"Ion Inertial Length":0.0103,"Ion Gyroradius":0.0042,"raw_inertial":0.0103,"raw_gyro":0.0042},
{"panel":"Dawn","ion":"H+","x":19,"Ion Inertial Length":0.01,"Ion Gyroradius":0.0042,"raw_inertial":0.01,"raw_gyro":0.0042},
{"panel":"Dawn","ion":"H+","x":20,"Ion Inertial Length":0.012,"Ion Gyroradius":0.0038,"raw_inertial":null,"raw_gyro":null},
{"panel":"Dawn","ion":"H+","x":21,"Ion Inertial Length":0.0123,"Ion Gyroradius":0.0042,"raw_inertial":0.01,"raw_gyro":0.004},
{"panel":"Dawn","ion":"H+","x":22,"Ion Inertial Length":0.0126,"Ion Gyroradius":0.0043,"raw_inertial":0.0155,"raw_gyro":0.004},
{"panel":"Dawn","ion":"H+","x":23,"Ion Inertial Length":0.014,"Ion Gyroradius":0.005,"raw_inertial":0.011,"raw_gyro":0.0052},
{"panel":"Dawn","ion":"H+","x":24,"Ion Inertial Length":0.0148,"Ion Gyroradius":0.0053,"raw_inertial":0.012,"raw_gyro":0.0055},
{"panel":"Dawn","ion":"H+","x":25,"Ion Inertial Length":0.0145,"Ion Gyroradius":0.006,"raw_inertial":0.0195,"raw_gyro":0.007},
{"panel":"Dawn","ion":"H+","x":26,"Ion Inertial Length":0.0168,"Ion Gyroradius":0.006,"raw_inertial":null,"raw_gyro":null},
{"panel":"Dawn","ion":"H+","x":27,"Ion Inertial Length":0.018,"Ion Gyroradius":0.0058,"raw_inertial":null,"raw_gyro":null},
{"panel":"Dawn","ion":"H+","x":28,"Ion Inertial Length":0.0172,"Ion Gyroradius":0.0052,"raw_inertial":0.018,"raw_gyro":0.0052},
{"panel":"Dawn","ion":"H+","x":29,"Ion Inertial Length":0.0172,"Ion Gyroradius":0.0052,"raw_inertial":0.0165,"raw_gyro":0.005},
{"panel":"Dawn","ion":"H+","x":30,"Ion Inertial Length":0.0172,"Ion Gyroradius":0.0052,"raw_inertial":null,"raw_gyro":null}
],
"errs": [
{"panel":"Midnight","ion":"W+","x":8,"lo":0.0058,"hi":0.0085},
{"panel":"Midnight","ion":"W+","x":8,"lo":0.0035,"hi":0.0055},
{"panel":"Midnight","ion":"W+","x":11,"lo":0.0075,"hi":0.0257},
{"panel":"Midnight","ion":"W+","x":11,"lo":0.0125,"hi":0.021},
{"panel":"Midnight","ion":"W+","x":14,"lo":0.011,"hi":0.0431},
{"panel":"Midnight","ion":"W+","x":14,"lo":0.0268,"hi":0.0355},
{"panel":"Midnight","ion":"W+","x":17,"lo":0.0161,"hi":0.0484},
{"panel":"Midnight","ion":"W+","x":17,"lo":0.0324,"hi":0.0414},
{"panel":"Midnight","ion":"W+","x":20,"lo":0.0195,"hi":0.0623},
{"panel":"Midnight","ion":"W+","x":20,"lo":0.0448,"hi":0.0583},
{"panel":"Midnight","ion":"W+","x":23,"lo":0.022,"hi":0.0752},
{"panel":"Midnight","ion":"W+","x":23,"lo":0.0473,"hi":0.065},
{"panel":"Midnight","ion":"W+","x":26,"lo":0.0229,"hi":0.078},
{"panel":"Midnight","ion":"W+","x":26,"lo":0.0386,"hi":0.051},
{"panel":"Midnight","ion":"W+","x":29,"lo":0.0525,"hi":0.0918},
{"panel":"Midnight","ion":"W+","x":29,"lo":0.06,"hi":0.0836},
{"panel":"Midnight","ion":"H+","x":11,"lo":0.0072,"hi":0.0105},
{"panel":"Midnight","ion":"H+","x":11,"lo":0.0005,"hi":0.0028},
{"panel":"Midnight","ion":"H+","x":13,"lo":0.0078,"hi":0.011},
{"panel":"Midnight","ion":"H+","x":13,"lo":0.0006,"hi":0.0033},
{"panel":"Midnight","ion":"H+","x":15,"lo":0.0085,"hi":0.0145},
{"panel":"Midnight","ion":"H+","x":15,"lo":0.0008,"hi":0.0054},
{"panel":"Midnight","ion":"H+","x":17,"lo":0.0108,"hi":0.0155},
{"panel":"Midnight","ion":"H+","x":17,"lo":0.001,"hi":0.0055},
{"panel":"Midnight","ion":"H+","x":19,"lo":0.009,"hi":0.0212},
{"panel":"Midnight","ion":"H+","x":19,"lo":0.0012,"hi":0.0088},
{"panel":"Midnight","ion":"H+","x":21,"lo":0.0138,"hi":0.0203},
{"panel":"Midnight","ion":"H+","x":21,"lo":0.0015,"hi":0.0075},
{"panel":"Midnight","ion":"H+","x":23,"lo":0.0085,"hi":0.0212},
{"panel":"Midnight","ion":"H+","x":23,"lo":0.002,"hi":0.0085},
{"panel":"Midnight","ion":"H+","x":25,"lo":0.009,"hi":0.0165},
{"panel":"Midnight","ion":"H+","x":25,"lo":0.002,"hi":0.01},
{"panel":"Midnight","ion":"H+","x":27,"lo":0.0165,"hi":0.0205},
{"panel":"Midnight","ion":"H+","x":27,"lo":0.0025,"hi":0.0116},
{"panel":"Midnight","ion":"H+","x":29,"lo":0.008,"hi":0.0347},
{"panel":"Midnight","ion":"H+","x":29,"lo":0.0025,"hi":0.021},
{"panel":"Noon","ion":"W+","x":8,"lo":0.005,"hi":0.0068},
{"panel":"Noon","ion":"W+","x":8,"lo":0.003,"hi":0.0045},
{"panel":"Noon","ion":"W+","x":11,"lo":0.006,"hi":0.014},
{"panel":"Noon","ion":"W+","x":11,"lo":0.011,"hi":0.0145},
{"panel":"Noon","ion":"W+","x":14,"lo":0.011,"hi":0.0294},
{"panel":"Noon","ion":"W+","x":14,"lo":0.019,"hi":0.027},
{"panel":"Noon","ion":"W+","x":17,"lo":0.0161,"hi":0.0434},
{"panel":"Noon","ion":"W+","x":17,"lo":0.0255,"hi":0.0425},
{"panel":"Noon","ion":"W+","x":20,"lo":0.0245,"hi":0.105},
{"panel":"Noon","ion":"W+","x":20,"lo":0.0409,"hi":0.057},
{"panel":"Noon","ion":"W+","x":23,"lo":0.005,"hi":0.105},
{"panel":"Noon","ion":"W+","x":23,"lo":0.0262,"hi":0.0733},
{"panel":"Noon","ion":"W+","x":23,"lo":0.0245,"hi":0.042},
{"panel":"Noon","ion":"W+","x":26,"lo":0.0398,"hi":0.105},
{"panel":"Noon","ion":"W+","x":26,"lo":0.0552,"hi":0.0591},
{"panel":"Noon","ion":"W+","x":29,"lo":0.035,"hi":0.059},
{"panel":"Noon","ion":"H+","x":11,"lo":0.0055,"hi":0.0078},
{"panel":"Noon","ion":"H+","x":13,"lo":0.008,"hi":0.0093},
{"panel":"Noon","ion":"H+","x":13,"lo":0.0008,"hi":0.0018},
{"panel":"Noon","ion":"H+","x":15,"lo":0.0088,"hi":0.0118},
{"panel":"Noon","ion":"H+","x":15,"lo":0.001,"hi":0.003},
{"panel":"Noon","ion":"H+","x":17,"lo":0.01,"hi":0.0145},
{"panel":"Noon","ion":"H+","x":17,"lo":0.0012,"hi":0.004},
{"panel":"Noon","ion":"H+","x":19,"lo":0.0085,"hi":0.0165},
{"panel":"Noon","ion":"H+","x":19,"lo":0.002,"hi":0.0085},
{"panel":"Noon","ion":"H+","x":21,"lo":0.0095,"hi":0.016},
{"panel":"Noon","ion":"H+","x":21,"lo":0.0025,"hi":0.009},
{"panel":"Noon","ion":"H+","x":23,"lo":0.005,"hi":0.0245},
{"panel":"Noon","ion":"H+","x":23,"lo":0.0045,"hi":0.01},
{"panel":"Noon","ion":"H+","x":25,"lo":0.0075,"hi":0.0212},
{"panel":"Noon","ion":"H+","x":25,"lo":0.007,"hi":0.01},
{"panel":"Noon","ion":"H+","x":27,"lo":0.0085,"hi":0.0185},
{"panel":"Noon","ion":"H+","x":27,"lo":0.008,"hi":0.01},
{"panel":"Noon","ion":"H+","x":29,"lo":0.008,"hi":0.0095},
{"panel":"Dusk","ion":"W+","x":8,"lo":0.003,"hi":0.005},
{"panel":"Dusk","ion":"W+","x":8,"lo":0.006,"hi":0.0085},
{"panel":"Dusk","ion":"W+","x":11,"lo":0.006,"hi":0.0175},
{"panel":"Dusk","ion":"W+","x":11,"lo":0.012,"hi":0.0165},
{"panel":"Dusk","ion":"W+","x":14,"lo":0.0115,"hi":0.04},
{"panel":"Dusk","ion":"W+","x":14,"lo":0.021,"hi":0.0265},
{"panel":"Dusk","ion":"W+","x":17,"lo":0.016,"hi":0.049},
{"panel":"Dusk","ion":"W+","x":17,"lo":0.026,"hi":0.0345},
{"panel":"Dusk","ion":"W+","x":20,"lo":0.0195,"hi":0.068},
{"panel":"Dusk","ion":"W+","x":20,"lo":0.034,"hi":0.0425},
{"panel":"Dusk","ion":"W+","x":23,"lo":0.025,"hi":0.094},
{"panel":"Dusk","ion":"W+","x":23,"lo":0.034,"hi":0.0475},
{"panel":"Dusk","ion":"W+","x":26,"lo":0.03,"hi":0.105},
{"panel":"Dusk","ion":"W+","x":26,"lo":0.042,"hi":0.0515},
{"panel":"Dusk","ion":"W+","x":29,"lo":0.031,"hi":0.094},
{"panel":"Dusk","ion":"W+","x":29,"lo":0.0425,"hi":0.105},
{"panel":"Dusk","ion":"H+","x":11,"lo":0.006,"hi":0.0095},
{"panel":"Dusk","ion":"H+","x":11,"lo":0.0005,"hi":0.002},
{"panel":"Dusk","ion":"H+","x":13,"lo":0.0075,"hi":0.0105},
{"panel":"Dusk","ion":"H+","x":13,"lo":0.0008,"hi":0.003},
{"panel":"Dusk","ion":"H+","x":15,"lo":0.0078,"hi":0.0098},
{"panel":"Dusk","ion":"H+","x":15,"lo":0.001,"hi":0.004},
{"panel":"Dusk","ion":"H+","x":17,"lo":0.0095,"hi":0.012},
{"panel":"Dusk","ion":"H+","x":17,"lo":0.001,"hi":0.005},
{"panel":"Dusk","ion":"H+","x":19,"lo":0.0105,"hi":0.0155},
{"panel":"Dusk","ion":"H+","x":19,"lo":0.001,"hi":0.0075},
{"panel":"Dusk","ion":"H+","x":21,"lo":0.011,"hi":0.0145},
{"panel":"Dusk","ion":"H+","x":21,"lo":0.002,"hi":0.008},
{"panel":"Dusk","ion":"H+","x":23,"lo":0.0105,"hi":0.0148},
{"panel":"Dusk","ion":"H+","x":23,"lo":0.0035,"hi":0.009},
{"panel":"Dusk","ion":"H+","x":25,"lo":0.0105,"hi":0.0155},
{"panel":"Dusk","ion":"H+","x":25,"lo":0.0045,"hi":0.009},
{"panel":"Dusk","ion":"H+","x":27,"lo":0.014,"hi":0.018},
{"panel":"Dusk","ion":"H+","x":27,"lo":0.0045,"hi":0.012},
{"panel":"Dusk","ion":"H+","x":29,"lo":0.005,"hi":0.025},
{"panel":"Dusk","ion":"H+","x":29,"lo":0.0055,"hi":0.009},
{"panel":"Dawn","ion":"W+","x":8,"lo":0.004,"hi":0.01},
{"panel":"Dawn","ion":"W+","x":8,"lo":0.003,"hi":0.005},
{"panel":"Dawn","ion":"W+","x":11,"lo":0.0065,"hi":0.0195},
{"panel":"Dawn","ion":"W+","x":11,"lo":0.011,"hi":0.015},
{"panel":"Dawn","ion":"W+","x":14,"lo":0.012,"hi":0.043},
{"panel":"Dawn","ion":"W+","x":14,"lo":0.028,"hi":0.033},
{"panel":"Dawn","ion":"W+","x":17,"lo":0.026,"hi":0.105},
{"panel":"Dawn","ion":"W+","x":17,"lo":0.041,"hi":0.0932},
{"panel":"Dawn","ion":"W+","x":23,"lo":0.0045,"hi":0.105},
{"panel":"Dawn","ion":"W+","x":23,"lo":0.011,"hi":0.0423},
{"panel":"Dawn","ion":"W+","x":29,"lo":0.0443,"hi":0.105},
{"panel":"Dawn","ion":"W+","x":29,"lo":0.0583,"hi":0.0865},
{"panel":"Dawn","ion":"H+","x":11,"lo":0.005,"hi":0.0065},
{"panel":"Dawn","ion":"H+","x":11,"lo":0.0008,"hi":0.002},
{"panel":"Dawn","ion":"H+","x":13,"lo":0.006,"hi":0.0105},
{"panel":"Dawn","ion":"H+","x":13,"lo":0.001,"hi":0.003},
{"panel":"Dawn","ion":"H+","x":15,"lo":0.0075,"hi":0.012},
{"panel":"Dawn","ion":"H+","x":15,"lo":0.0015,"hi":0.0045},
{"panel":"Dawn","ion":"H+","x":17,"lo":0.0085,"hi":0.011},
{"panel":"Dawn","ion":"H+","x":17,"lo":0.0025,"hi":0.0045},
{"panel":"Dawn","ion":"H+","x":19,"lo":0.0085,"hi":0.0145},
{"panel":"Dawn","ion":"H+","x":19,"lo":0.0025,"hi":0.0055},
{"panel":"Dawn","ion":"H+","x":21,"lo":0.01,"hi":0.013},
{"panel":"Dawn","ion":"H+","x":21,"lo":0.0015,"hi":0.0055},
{"panel":"Dawn","ion":"H+","x":23,"lo":0.0015,"hi":0.02},
{"panel":"Dawn","ion":"H+","x":25,"lo":0.0065,"hi":0.0255},
{"panel":"Dawn","ion":"H+","x":25,"lo":0.005,"hi":0.007},
{"panel":"Dawn","ion":"H+","x":27,"lo":0.0155,"hi":0.018},
{"panel":"Dawn","ion":"H+","x":29,"lo":0.0135,"hi":0.0185},
{"panel":"Dawn","ion":"H+","x":29,"lo":0.0025,"hi":0.008}
],
"labels": [
{"panel":"Midnight","ion":"W+","letter":"W","x":26.5,"y":0.0655,"sup":"+","sx":27.9,"sy":0.0713},
{"panel":"Midnight","ion":"H+","letter":"H","x":26.5,"y":0.022,"sup":"+","sx":27.7,"sy":0.0274},
{"panel":"Noon","ion":"W+","letter":"W","x":26.45,"y":0.0803,"sup":"+","sx":27.9,"sy":0.085},
{"panel":"Noon","ion":"H+","letter":"H","x":26.4,"y":0.0205,"sup":"+","sx":27.7,"sy":0.0274},
{"panel":"Dusk","ion":"W+","letter":"W","x":26.5,"y":0.0752,"sup":"+","sx":27.6,"sy":0.0827},
{"panel":"Dusk","ion":"H+","letter":"H","x":26.5,"y":0.02,"sup":"+","sx":27.5,"sy":0.0253},
{"panel":"Dawn","ion":"W+","letter":"W","x":26.45,"y":0.0854,"sup":"+","sx":27.9,"sy":0.0904},
{"panel":"Dawn","ion":"H+","letter":"H","x":26.4,"y":0.02,"sup":"+","sx":27.7,"sy":0.0253}
]
},
"resolve": {"scale": {"strokeDash": "independent"}, "legend": {"strokeDash": "independent"}},
"bounds": "flush",
"columns": 2,
"spacing": {"row": 50, "column": 32},
"concat": [
{
"width": 474, "height": 297,
"layer": [
{"data": {"name": "errs"}, "transform": [{"filter": "datum.panel === 'Midnight'"}],
 "mark": {"type": "rule", "strokeWidth": 1.1, "opacity": 0.45, "clip": true},
 "encoding": {"x": {"field": "x", "type": "quantitative", "scale": {"domain": [5, 30], "nice": false, "zero": false}, "axis": null},
  "y": {"field": "lo", "type": "quantitative", "scale": {"domain": [0, 0.1], "nice": false}, "axis": null}, "y2": {"field": "hi"},
  "color": {"field": "ion", "type": "nominal", "scale": {"domain": ["W+", "H+"], "range": ["#1fb4c8", "#e840be"]}, "legend": null}}},
{"data": {"name": "errs"}, "transform": [{"filter": "datum.panel === 'Midnight'"}, {"fold": ["lo", "hi"], "as": ["end", "val"]}],
 "mark": {"type": "tick", "orient": "horizontal", "size": 10, "thickness": 1.1, "opacity": 0.45, "clip": true},
 "encoding": {"x": {"field": "x", "type": "quantitative", "axis": null}, "y": {"field": "val", "type": "quantitative", "axis": null},
  "color": {"field": "ion", "type": "nominal", "legend": null}}},
{"data": {"name": "lines"}, "transform": [{"filter": "datum.panel === 'Midnight'"}],
 "mark": {"type": "line", "strokeWidth": 1.1, "opacity": 0.38, "clip": true, "invalid": "break-paths-show-domains"},
 "encoding": {"x": {"field": "x", "type": "quantitative", "axis": {"orient": "top", "values": [5,6,7,8,9,10,11,12,13,14,15,16,17,18,19,20,21,22,23,24,25,26,27,28,29,30], "labels": false, "title": null, "tickSize": {"condition": {"test": "datum.value % 5 === 0", "value": -9}, "value": -5}}},
  "y": {"field": "raw_inertial", "type": "quantitative", "axis": {"orient": "right", "values": [0,0.005,0.01,0.015,0.02,0.025,0.03,0.035,0.04,0.045,0.05,0.055,0.06,0.065,0.07,0.075,0.08,0.085,0.09,0.095,0.1], "labels": false, "title": null, "tickSize": {"condition": {"test": "abs(datum.value/0.02 - round(datum.value/0.02)) < 0.01", "value": -9}, "value": -5}}},
  "color": {"field": "ion", "type": "nominal", "legend": null}}},
{"data": {"name": "lines"}, "transform": [{"filter": "datum.panel === 'Midnight'"}],
 "mark": {"type": "line", "strokeWidth": 1.1, "opacity": 0.38, "strokeDash": [4, 2.5], "clip": true, "invalid": "break-paths-show-domains"},
 "encoding": {"x": {"field": "x", "type": "quantitative", "axis": null}, "y": {"field": "raw_gyro", "type": "quantitative", "axis": null},
  "color": {"field": "ion", "type": "nominal", "legend": null}}},
{"data": {"name": "lines"}, "transform": [{"filter": "datum.panel === 'Midnight'"}, {"fold": ["Ion Inertial Length", "Ion Gyroradius"], "as": ["quantity", "value"]}],
 "mark": {"type": "line", "strokeWidth": 1.7, "clip": true, "invalid": "break-paths-show-domains"},
 "encoding": {"x": {"field": "x", "type": "quantitative", "axis": {"orient": "bottom", "values": [5,6,7,8,9,10,11,12,13,14,15,16,17,18,19,20,21,22,23,24,25,26,27,28,29,30], "labelExpr": "datum.value % 5 === 0 ? datum.label : ''", "labelFontSize": 20, "labelPadding": 16, "labelFlush": false, "labelOverlap": false, "title": null, "tickSize": {"condition": {"test": "datum.value % 5 === 0", "value": -9}, "value": -5}}},
  "y": {"field": "value", "type": "quantitative", "axis": {"orient": "left", "values": [0,0.005,0.01,0.015,0.02,0.025,0.03,0.035,0.04,0.045,0.05,0.055,0.06,0.065,0.07,0.075,0.08,0.085,0.09,0.095,0.1], "format": ".2f", "labelExpr": "abs(datum.value/0.02 - round(datum.value/0.02)) < 0.01 ? datum.label : ''", "labelFontSize": 20, "labelPadding": 18, "labelOverlap": false, "title": "Kinetic Length Scale λ [Rₛ]", "titleFontSize": 23, "titlePadding": 5, "tickSize": {"condition": {"test": "abs(datum.value/0.02 - round(datum.value/0.02)) < 0.01", "value": -9}, "value": -5}}},
  "color": {"field": "ion", "type": "nominal", "legend": null},
  "strokeDash": {"field": "quantity", "type": "nominal", "scale": {"domain": ["Ion Inertial Length", "Ion Gyroradius"], "range": [[1, 0], [8, 3]]},
   "legend": {"title": "Midnight", "orient": "none", "legendX": 22, "legendY": 18, "titleAnchor": "middle", "titleFontSize": 26, "titleFontWeight": "normal", "titleColor": "#111111", "titlePadding": -2, "labelFontSize": 20, "labelColor": "#111111", "labelOffset": 15, "labelLimit": 0, "symbolType": "stroke", "symbolSize": 1764, "symbolStrokeColor": "#e840be", "symbolStrokeWidth": 1.8, "rowPadding": -13, "padding": 0}}}},
{"data": {"name": "labels"}, "transform": [{"filter": "datum.panel === 'Midnight'"}],
 "mark": {"type": "text", "fontSize": 28, "align": "center", "baseline": "alphabetic"},
 "encoding": {"x": {"field": "x", "type": "quantitative", "axis": null}, "y": {"field": "y", "type": "quantitative", "axis": null}, "text": {"field": "letter"}, "color": {"field": "ion", "type": "nominal", "legend": null}}},
{"data": {"name": "labels"}, "transform": [{"filter": "datum.panel === 'Midnight'"}],
 "mark": {"type": "text", "fontSize": 22, "align": "center", "baseline": "middle"},
 "encoding": {"x": {"field": "sx", "type": "quantitative", "axis": null}, "y": {"field": "sy", "type": "quantitative", "axis": null}, "text": {"field": "sup"}, "color": {"field": "ion", "type": "nominal", "legend": null}}}
]
},
{
"width": 474, "height": 297,
"layer": [
{"data": {"name": "errs"}, "transform": [{"filter": "datum.panel === 'Noon'"}],
 "mark": {"type": "rule", "strokeWidth": 1.1, "opacity": 0.45, "clip": true},
 "encoding": {"x": {"field": "x", "type": "quantitative", "scale": {"domain": [5, 30], "nice": false, "zero": false}, "axis": null},
  "y": {"field": "lo", "type": "quantitative", "scale": {"domain": [0, 0.1], "nice": false}, "axis": null}, "y2": {"field": "hi"},
  "color": {"field": "ion", "type": "nominal", "scale": {"domain": ["W+", "H+"], "range": ["#1fb4c8", "#e840be"]}, "legend": null}}},
{"data": {"name": "errs"}, "transform": [{"filter": "datum.panel === 'Noon'"}, {"fold": ["lo", "hi"], "as": ["end", "val"]}],
 "mark": {"type": "tick", "orient": "horizontal", "size": 10, "thickness": 1.1, "opacity": 0.45, "clip": true},
 "encoding": {"x": {"field": "x", "type": "quantitative", "axis": null}, "y": {"field": "val", "type": "quantitative", "axis": null},
  "color": {"field": "ion", "type": "nominal", "legend": null}}},
{"data": {"name": "lines"}, "transform": [{"filter": "datum.panel === 'Noon'"}],
 "mark": {"type": "line", "strokeWidth": 1.1, "opacity": 0.38, "clip": true, "invalid": "break-paths-show-domains"},
 "encoding": {"x": {"field": "x", "type": "quantitative", "axis": {"orient": "top", "values": [5,6,7,8,9,10,11,12,13,14,15,16,17,18,19,20,21,22,23,24,25,26,27,28,29,30], "labels": false, "title": null, "tickSize": {"condition": {"test": "datum.value % 5 === 0", "value": -9}, "value": -5}}},
  "y": {"field": "raw_inertial", "type": "quantitative", "axis": {"orient": "right", "values": [0,0.005,0.01,0.015,0.02,0.025,0.03,0.035,0.04,0.045,0.05,0.055,0.06,0.065,0.07,0.075,0.08,0.085,0.09,0.095,0.1], "labels": false, "title": null, "tickSize": {"condition": {"test": "abs(datum.value/0.02 - round(datum.value/0.02)) < 0.01", "value": -9}, "value": -5}}},
  "color": {"field": "ion", "type": "nominal", "legend": null}}},
{"data": {"name": "lines"}, "transform": [{"filter": "datum.panel === 'Noon'"}],
 "mark": {"type": "line", "strokeWidth": 1.1, "opacity": 0.38, "strokeDash": [4, 2.5], "clip": true, "invalid": "break-paths-show-domains"},
 "encoding": {"x": {"field": "x", "type": "quantitative", "axis": null}, "y": {"field": "raw_gyro", "type": "quantitative", "axis": null},
  "color": {"field": "ion", "type": "nominal", "legend": null}}},
{"data": {"name": "lines"}, "transform": [{"filter": "datum.panel === 'Noon'"}, {"fold": ["Ion Inertial Length", "Ion Gyroradius"], "as": ["quantity", "value"]}],
 "mark": {"type": "line", "strokeWidth": 1.7, "clip": true, "invalid": "break-paths-show-domains"},
 "encoding": {"x": {"field": "x", "type": "quantitative", "axis": {"orient": "bottom", "values": [5,6,7,8,9,10,11,12,13,14,15,16,17,18,19,20,21,22,23,24,25,26,27,28,29,30], "labelExpr": "datum.value % 5 === 0 ? datum.label : ''", "labelFontSize": 20, "labelPadding": 16, "labelFlush": false, "labelOverlap": false, "title": null, "tickSize": {"condition": {"test": "datum.value % 5 === 0", "value": -9}, "value": -5}}},
  "y": {"field": "value", "type": "quantitative", "axis": {"orient": "left", "values": [0,0.005,0.01,0.015,0.02,0.025,0.03,0.035,0.04,0.045,0.05,0.055,0.06,0.065,0.07,0.075,0.08,0.085,0.09,0.095,0.1], "labels": false, "title": null, "tickSize": {"condition": {"test": "abs(datum.value/0.02 - round(datum.value/0.02)) < 0.01", "value": -9}, "value": -5}}},
  "color": {"field": "ion", "type": "nominal", "legend": null},
  "strokeDash": {"field": "quantity", "type": "nominal", "scale": {"domain": ["Ion Inertial Length", "Ion Gyroradius"], "range": [[1, 0], [8, 3]]},
   "legend": {"title": "Noon", "orient": "none", "legendX": 22, "legendY": 18, "titleAnchor": "middle", "titleFontSize": 26, "titleFontWeight": "normal", "titleColor": "#111111", "titlePadding": -2, "labelFontSize": 20, "labelColor": "#111111", "labelOffset": 15, "labelLimit": 0, "symbolType": "stroke", "symbolSize": 1764, "symbolStrokeColor": "#e840be", "symbolStrokeWidth": 1.8, "rowPadding": -13, "padding": 0}}}},
{"data": {"name": "labels"}, "transform": [{"filter": "datum.panel === 'Noon'"}],
 "mark": {"type": "text", "fontSize": 28, "align": "center", "baseline": "alphabetic"},
 "encoding": {"x": {"field": "x", "type": "quantitative", "axis": null}, "y": {"field": "y", "type": "quantitative", "axis": null}, "text": {"field": "letter"}, "color": {"field": "ion", "type": "nominal", "legend": null}}},
{"data": {"name": "labels"}, "transform": [{"filter": "datum.panel === 'Noon'"}],
 "mark": {"type": "text", "fontSize": 22, "align": "center", "baseline": "middle"},
 "encoding": {"x": {"field": "sx", "type": "quantitative", "axis": null}, "y": {"field": "sy", "type": "quantitative", "axis": null}, "text": {"field": "sup"}, "color": {"field": "ion", "type": "nominal", "legend": null}}}
]
},
{
"width": 474, "height": 297,
"layer": [
{"data": {"name": "errs"}, "transform": [{"filter": "datum.panel === 'Dusk'"}],
 "mark": {"type": "rule", "strokeWidth": 1.1, "opacity": 0.45, "clip": true},
 "encoding": {"x": {"field": "x", "type": "quantitative", "scale": {"domain": [5, 30], "nice": false, "zero": false}, "axis": null},
  "y": {"field": "lo", "type": "quantitative", "scale": {"domain": [0, 0.1], "nice": false}, "axis": null}, "y2": {"field": "hi"},
  "color": {"field": "ion", "type": "nominal", "scale": {"domain": ["W+", "H+"], "range": ["#1fb4c8", "#e840be"]}, "legend": null}}},
{"data": {"name": "errs"}, "transform": [{"filter": "datum.panel === 'Dusk'"}, {"fold": ["lo", "hi"], "as": ["end", "val"]}],
 "mark": {"type": "tick", "orient": "horizontal", "size": 10, "thickness": 1.1, "opacity": 0.45, "clip": true},
 "encoding": {"x": {"field": "x", "type": "quantitative", "axis": null}, "y": {"field": "val", "type": "quantitative", "axis": null},
  "color": {"field": "ion", "type": "nominal", "legend": null}}},
{"data": {"name": "lines"}, "transform": [{"filter": "datum.panel === 'Dusk'"}],
 "mark": {"type": "line", "strokeWidth": 1.1, "opacity": 0.38, "clip": true, "invalid": "break-paths-show-domains"},
 "encoding": {"x": {"field": "x", "type": "quantitative", "axis": {"orient": "top", "values": [5,6,7,8,9,10,11,12,13,14,15,16,17,18,19,20,21,22,23,24,25,26,27,28,29,30], "labels": false, "title": null, "tickSize": {"condition": {"test": "datum.value % 5 === 0", "value": -9}, "value": -5}}},
  "y": {"field": "raw_inertial", "type": "quantitative", "axis": {"orient": "right", "values": [0,0.005,0.01,0.015,0.02,0.025,0.03,0.035,0.04,0.045,0.05,0.055,0.06,0.065,0.07,0.075,0.08,0.085,0.09,0.095,0.1], "labels": false, "title": null, "tickSize": {"condition": {"test": "abs(datum.value/0.02 - round(datum.value/0.02)) < 0.01", "value": -9}, "value": -5}}},
  "color": {"field": "ion", "type": "nominal", "legend": null}}},
{"data": {"name": "lines"}, "transform": [{"filter": "datum.panel === 'Dusk'"}],
 "mark": {"type": "line", "strokeWidth": 1.1, "opacity": 0.38, "strokeDash": [4, 2.5], "clip": true, "invalid": "break-paths-show-domains"},
 "encoding": {"x": {"field": "x", "type": "quantitative", "axis": null}, "y": {"field": "raw_gyro", "type": "quantitative", "axis": null},
  "color": {"field": "ion", "type": "nominal", "legend": null}}},
{"data": {"name": "lines"}, "transform": [{"filter": "datum.panel === 'Dusk'"}, {"fold": ["Ion Inertial Length", "Ion Gyroradius"], "as": ["quantity", "value"]}],
 "mark": {"type": "line", "strokeWidth": 1.7, "clip": true, "invalid": "break-paths-show-domains"},
 "encoding": {"x": {"field": "x", "type": "quantitative", "axis": {"orient": "bottom", "values": [5,6,7,8,9,10,11,12,13,14,15,16,17,18,19,20,21,22,23,24,25,26,27,28,29,30], "labelExpr": "datum.value % 5 === 0 ? datum.label : ''", "labelFontSize": 20, "labelPadding": 16, "labelFlush": false, "labelOverlap": false, "title": "ρ [Rₛ]", "titleFontSize": 15, "titlePadding": -6, "tickSize": {"condition": {"test": "datum.value % 5 === 0", "value": -9}, "value": -5}}},
  "y": {"field": "value", "type": "quantitative", "axis": {"orient": "left", "values": [0,0.005,0.01,0.015,0.02,0.025,0.03,0.035,0.04,0.045,0.05,0.055,0.06,0.065,0.07,0.075,0.08,0.085,0.09,0.095,0.1], "format": ".2f", "labelExpr": "abs(datum.value/0.02 - round(datum.value/0.02)) < 0.01 ? datum.label : ''", "labelFontSize": 20, "labelPadding": 18, "labelOverlap": false, "title": "Kinetic Length Scale λ [Rₛ]", "titleFontSize": 23, "titlePadding": 5, "tickSize": {"condition": {"test": "abs(datum.value/0.02 - round(datum.value/0.02)) < 0.01", "value": -9}, "value": -5}}},
  "color": {"field": "ion", "type": "nominal", "legend": null},
  "strokeDash": {"field": "quantity", "type": "nominal", "scale": {"domain": ["Ion Inertial Length", "Ion Gyroradius"], "range": [[1, 0], [8, 3]]},
   "legend": {"title": "Dusk", "orient": "none", "legendX": 22, "legendY": 18, "titleAnchor": "middle", "titleFontSize": 26, "titleFontWeight": "normal", "titleColor": "#111111", "titlePadding": -2, "labelFontSize": 20, "labelColor": "#111111", "labelOffset": 15, "labelLimit": 0, "symbolType": "stroke", "symbolSize": 1764, "symbolStrokeColor": "#e840be", "symbolStrokeWidth": 1.8, "rowPadding": -13, "padding": 0}}}},
{"data": {"name": "labels"}, "transform": [{"filter": "datum.panel === 'Dusk'"}],
 "mark": {"type": "text", "fontSize": 28, "align": "center", "baseline": "alphabetic"},
 "encoding": {"x": {"field": "x", "type": "quantitative", "axis": null}, "y": {"field": "y", "type": "quantitative", "axis": null}, "text": {"field": "letter"}, "color": {"field": "ion", "type": "nominal", "legend": null}}},
{"data": {"name": "labels"}, "transform": [{"filter": "datum.panel === 'Dusk'"}],
 "mark": {"type": "text", "fontSize": 22, "align": "center", "baseline": "middle"},
 "encoding": {"x": {"field": "sx", "type": "quantitative", "axis": null}, "y": {"field": "sy", "type": "quantitative", "axis": null}, "text": {"field": "sup"}, "color": {"field": "ion", "type": "nominal", "legend": null}}}
]
},
{
"width": 474, "height": 297,
"layer": [
{"data": {"name": "errs"}, "transform": [{"filter": "datum.panel === 'Dawn'"}],
 "mark": {"type": "rule", "strokeWidth": 1.1, "opacity": 0.45, "clip": true},
 "encoding": {"x": {"field": "x", "type": "quantitative", "scale": {"domain": [5, 30], "nice": false, "zero": false}, "axis": null},
  "y": {"field": "lo", "type": "quantitative", "scale": {"domain": [0, 0.1], "nice": false}, "axis": null}, "y2": {"field": "hi"},
  "color": {"field": "ion", "type": "nominal", "scale": {"domain": ["W+", "H+"], "range": ["#1fb4c8", "#e840be"]}, "legend": null}}},
{"data": {"name": "errs"}, "transform": [{"filter": "datum.panel === 'Dawn'"}, {"fold": ["lo", "hi"], "as": ["end", "val"]}],
 "mark": {"type": "tick", "orient": "horizontal", "size": 10, "thickness": 1.1, "opacity": 0.45, "clip": true},
 "encoding": {"x": {"field": "x", "type": "quantitative", "axis": null}, "y": {"field": "val", "type": "quantitative", "axis": null},
  "color": {"field": "ion", "type": "nominal", "legend": null}}},
{"data": {"name": "lines"}, "transform": [{"filter": "datum.panel === 'Dawn'"}],
 "mark": {"type": "line", "strokeWidth": 1.1, "opacity": 0.38, "clip": true, "invalid": "break-paths-show-domains"},
 "encoding": {"x": {"field": "x", "type": "quantitative", "axis": {"orient": "top", "values": [5,6,7,8,9,10,11,12,13,14,15,16,17,18,19,20,21,22,23,24,25,26,27,28,29,30], "labels": false, "title": null, "tickSize": {"condition": {"test": "datum.value % 5 === 0", "value": -9}, "value": -5}}},
  "y": {"field": "raw_inertial", "type": "quantitative", "axis": {"orient": "right", "values": [0,0.005,0.01,0.015,0.02,0.025,0.03,0.035,0.04,0.045,0.05,0.055,0.06,0.065,0.07,0.075,0.08,0.085,0.09,0.095,0.1], "labels": false, "title": null, "tickSize": {"condition": {"test": "abs(datum.value/0.02 - round(datum.value/0.02)) < 0.01", "value": -9}, "value": -5}}},
  "color": {"field": "ion", "type": "nominal", "legend": null}}},
{"data": {"name": "lines"}, "transform": [{"filter": "datum.panel === 'Dawn'"}],
 "mark": {"type": "line", "strokeWidth": 1.1, "opacity": 0.38, "strokeDash": [4, 2.5], "clip": true, "invalid": "break-paths-show-domains"},
 "encoding": {"x": {"field": "x", "type": "quantitative", "axis": null}, "y": {"field": "raw_gyro", "type": "quantitative", "axis": null},
  "color": {"field": "ion", "type": "nominal", "legend": null}}},
{"data": {"name": "lines"}, "transform": [{"filter": "datum.panel === 'Dawn'"}, {"fold": ["Ion Inertial Length", "Ion Gyroradius"], "as": ["quantity", "value"]}],
 "mark": {"type": "line", "strokeWidth": 1.7, "clip": true, "invalid": "break-paths-show-domains"},
 "encoding": {"x": {"field": "x", "type": "quantitative", "axis": {"orient": "bottom", "values": [5,6,7,8,9,10,11,12,13,14,15,16,17,18,19,20,21,22,23,24,25,26,27,28,29,30], "labelExpr": "datum.value % 5 === 0 ? datum.label : ''", "labelFontSize": 20, "labelPadding": 16, "labelFlush": false, "labelOverlap": false, "title": "ρ [Rₛ]", "titleFontSize": 15, "titlePadding": -6, "tickSize": {"condition": {"test": "datum.value % 5 === 0", "value": -9}, "value": -5}}},
  "y": {"field": "value", "type": "quantitative", "axis": {"orient": "left", "values": [0,0.005,0.01,0.015,0.02,0.025,0.03,0.035,0.04,0.045,0.05,0.055,0.06,0.065,0.07,0.075,0.08,0.085,0.09,0.095,0.1], "labels": false, "title": null, "tickSize": {"condition": {"test": "abs(datum.value/0.02 - round(datum.value/0.02)) < 0.01", "value": -9}, "value": -5}}},
  "color": {"field": "ion", "type": "nominal", "legend": null},
  "strokeDash": {"field": "quantity", "type": "nominal", "scale": {"domain": ["Ion Inertial Length", "Ion Gyroradius"], "range": [[1, 0], [8, 3]]},
   "legend": {"title": "Dawn", "orient": "none", "legendX": 22, "legendY": 18, "titleAnchor": "middle", "titleFontSize": 26, "titleFontWeight": "normal", "titleColor": "#111111", "titlePadding": -2, "labelFontSize": 20, "labelColor": "#111111", "labelOffset": 15, "labelLimit": 0, "symbolType": "stroke", "symbolSize": 1764, "symbolStrokeColor": "#e840be", "symbolStrokeWidth": 1.8, "rowPadding": -13, "padding": 0}}}},
{"data": {"name": "labels"}, "transform": [{"filter": "datum.panel === 'Dawn'"}],
 "mark": {"type": "text", "fontSize": 28, "align": "center", "baseline": "alphabetic"},
 "encoding": {"x": {"field": "x", "type": "quantitative", "axis": null}, "y": {"field": "y", "type": "quantitative", "axis": null}, "text": {"field": "letter"}, "color": {"field": "ion", "type": "nominal", "legend": null}}},
{"data": {"name": "labels"}, "transform": [{"filter": "datum.panel === 'Dawn'"}],
 "mark": {"type": "text", "fontSize": 22, "align": "center", "baseline": "middle"},
 "encoding": {"x": {"field": "sx", "type": "quantitative", "axis": null}, "y": {"field": "sy", "type": "quantitative", "axis": null}, "text": {"field": "sup"}, "color": {"field": "ion", "type": "nominal", "legend": null}}}
]
}
]
}
